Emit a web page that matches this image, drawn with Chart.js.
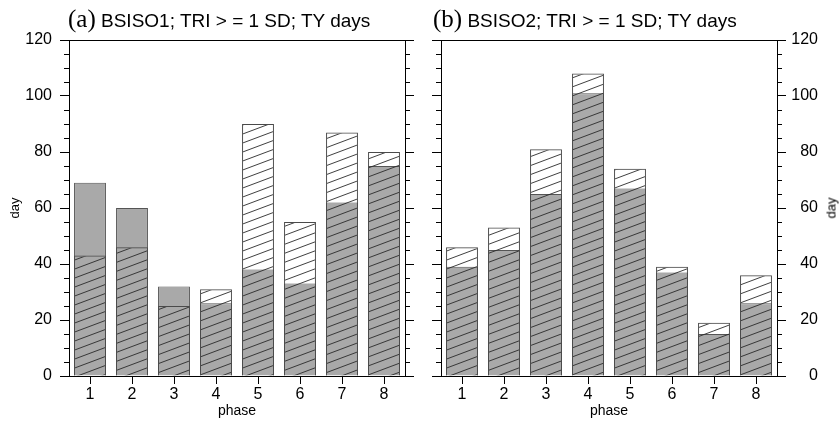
<!DOCTYPE html>
<html>
<head>
<meta charset="utf-8">
<script src="https://cdn.jsdelivr.net/npm/chart.js@4.4.1/dist/chart.umd.min.js"></script>
<style>
  body { margin: 0; background: #fff; }
  #wrap { position: relative; width: 840px; height: 429px; font-family: 'Liberation Sans', Arial, sans-serif; }
  canvas { position: absolute; top: 0; }
  .ttl { position: absolute; top: 5px; white-space: nowrap; font-size: 19px; color: #000; }
  .ttl .lab { font-family: 'Liberation Serif', 'Times New Roman', serif; font-size: 25px; }
  #dayR { position: absolute; left: 831px; top: 208px; font-size: 13px; transform: translate(-50%, -50%) rotate(-90deg); }
</style>
</head>
<body>
<div id="wrap">
  <canvas id="chartA" width="420" height="429" style="left:0"></canvas>
  <canvas id="chartB" width="420" height="429" style="left:420px"></canvas>
  <div class="ttl" style="left:68px"><span class="lab">(a)</span> BSISO1; TRI &gt; = 1 SD; TY days</div>
  <div class="ttl" style="left:433px"><span class="lab">(b)</span> BSISO2; TRI &gt; = 1 SD; TY days</div>
  <div id="dayR">day</div>
</div>
<script>
console.log('Initializing javascript...')

const phases = ['1', '2', '3', '4', '5', '6', '7', '8']
const yTicks = [0, 20, 40, 60, 80, 100, 120]

// panel (a) BSISO1
const greyA = [69, 60, 32, 26, 38, 33, 62, 75]
const hatchA = [43, 46, 25, 31, 90, 55, 87, 80]

// panel (b) BSISO2
const greyB = [39, 45, 65, 101, 67, 37, 15, 26]
const hatchB = [46, 53, 81, 108, 74, 39, 19, 36]

const FONT = "'Liberation Sans', Arial, sans-serif"

function makeHatch() {
  const c = document.createElement('canvas')
  c.width = 24
  c.height = 9
  const g = c.getContext('2d')
  g.strokeStyle = '#2a2a2a'
  g.lineWidth = 0.9
  for (let n = -1; n <= 1; n++) {
    g.beginPath()
    g.moveTo(0, 9 + 9 * n)
    g.lineTo(24, 9 * n)
    g.stroke()
  }
  return g.createPattern(c, 'repeat')
}

const hatch = makeHatch()

// short minor ticks every 5 days, like the original plot
const minorTicks = {
  id: 'minorTicks',
  afterDraw(chart) {
    const ctx = chart.ctx
    ctx.save()
    ctx.strokeStyle = '#000'
    ctx.lineWidth = 1
    ;['y', 'y2'].forEach(id => {
      const s = chart.scales[id]
      const left = s.position === 'left'
      const x0 = left ? s.right : s.left
      for (let v = 5; v < 120; v += 5) {
        if (v % 20 === 0) continue
        const py = Math.round(s.getPixelForValue(v)) + 0.5
        ctx.beginPath()
        ctx.moveTo(x0, py)
        ctx.lineTo(x0 + (left ? -5 : 5), py)
        ctx.stroke()
      }
    })
    ctx.restore()
  }
}

function yAxis(position, width, showLabels, extra) {
  return Object.assign({
    position: position,
    min: 0,
    max: 120,
    afterBuildTicks: s => { s.ticks = yTicks.map(v => ({ value: v })) },
    grid: { drawOnChartArea: false, drawTicks: true, tickLength: 9, color: '#000', tickColor: '#000' },
    border: { display: true, color: '#000', width: 1 },
    ticks: { display: showLabels, color: '#000', font: { family: FONT, size: 16 }, padding: 8 },
    afterFit: s => { s.width = width }
  }, extra || {})
}

function renderChart(id, grey, hatched, leftW, rightW, padRight, leftLabels, rightLabels) {
  const ctx = document.getElementById(id)
  const yLeft = yAxis('left', leftW, leftLabels, leftLabels ? {
    title: { display: true, text: 'day', color: '#000', font: { family: FONT, size: 13 }, padding: { top: 8, bottom: 0 } }
  } : {})
  const yRight = yAxis('right', rightW, rightLabels, {})
  if (rightLabels) {
    yRight.ticks.crossAlign = 'far'
    yRight.ticks.padding = 6
  }

  return new Chart(ctx, {
    type: 'bar',
    data: {
      labels: phases,
      datasets: [{
        label: 'hatched',
        data: hatched,
        backgroundColor: hatch,
        borderColor: '#4a4a4a',
        borderWidth: 1,
        order: 0
      }, {
        label: 'grey',
        data: grey,
        backgroundColor: '#a9a9a9',
        borderColor: '#555555',
        borderWidth: 1,
        order: 1
      }]
    },
    options: {
      responsive: false,
      animation: false,
      layout: { padding: { left: 0, top: 0, bottom: 0, right: padRight } },
      datasets: { bar: { grouped: false, barPercentage: 0.76, categoryPercentage: 1 } },
      plugins: { legend: { display: false }, tooltip: { enabled: false } },
      scales: {
        x: {
          position: 'bottom',
          offset: true,
          grid: { offset: false, drawOnChartArea: false, drawTicks: true, tickLength: 8, color: '#000' },
          border: { display: true, color: '#000', width: 1 },
          ticks: { color: '#000', font: { family: FONT, size: 16 }, padding: 1, maxRotation: 0 },
          title: { display: true, text: 'phase', color: '#000', font: { family: FONT, size: 14 }, padding: { top: 0, bottom: 9 } },
          afterFit: s => { s.height = 53 }
        },
        xTop: {
          position: 'top',
          offset: true,
          grid: { display: false },
          border: { display: true, color: '#000', width: 1 },
          ticks: { display: false },
          afterFit: s => { s.height = 40 }
        },
        y: yLeft,
        y2: yRight
      }
    },
    plugins: [minorTicks]
  })
}

renderChart('chartA', greyA, hatchA, 69, 15, 0, true, false)
renderChart('chartB', greyB, hatchB, 21, 41, 22, false, true)
</script>
</body>
</html>
